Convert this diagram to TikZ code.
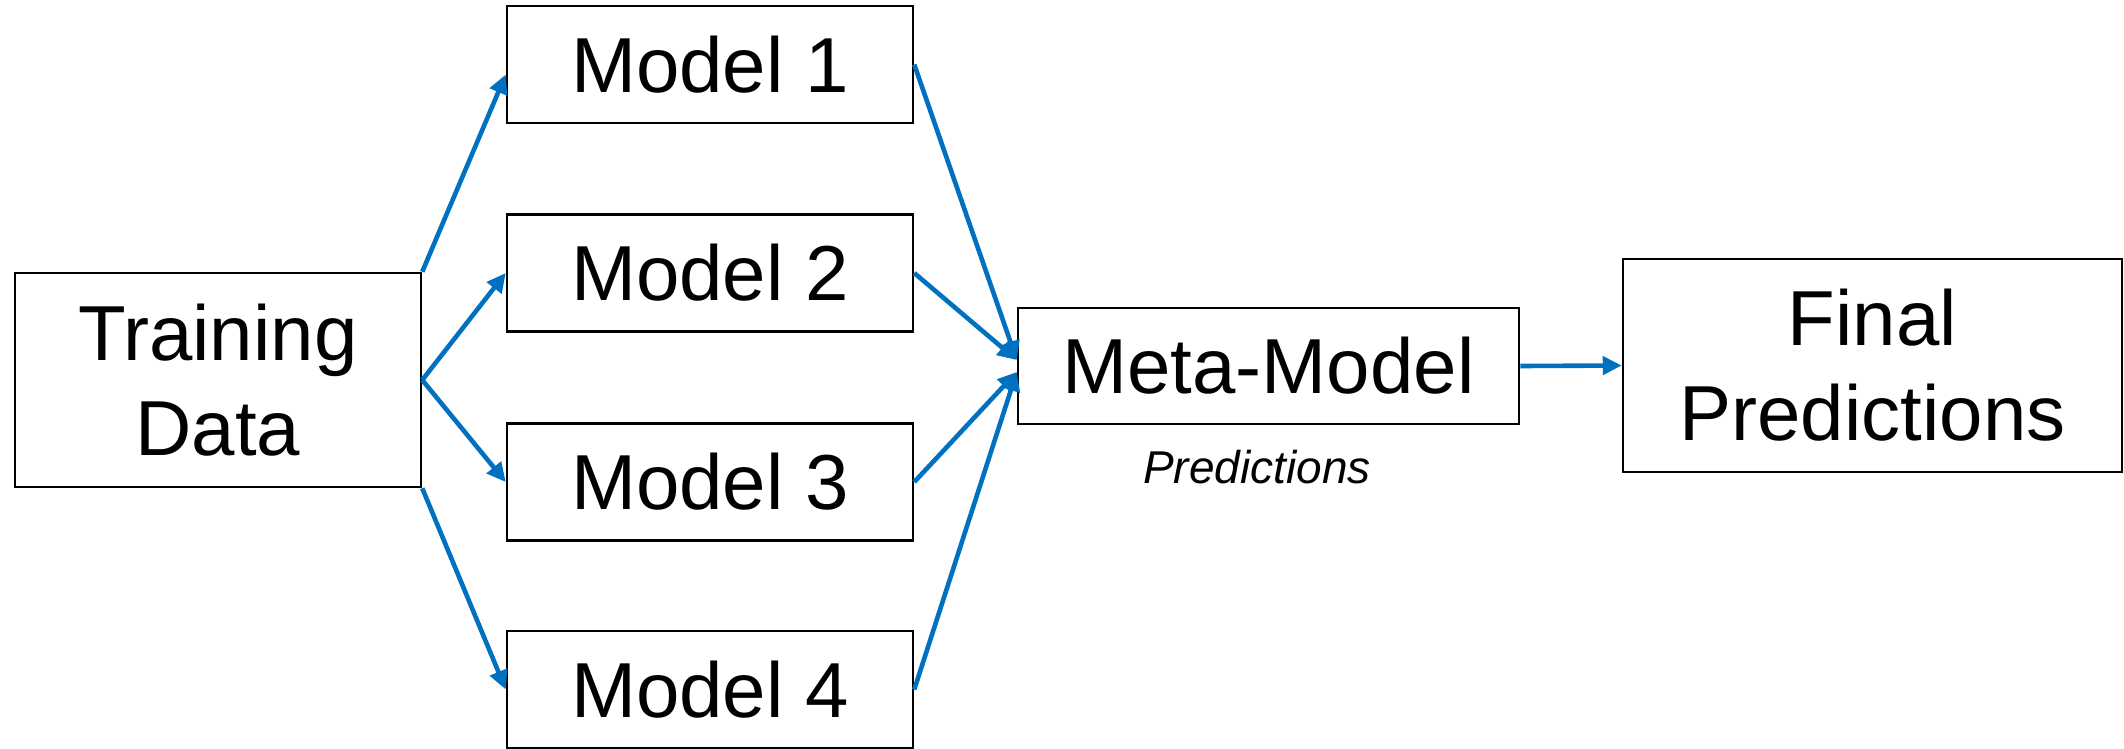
\documentclass[tikz,border=0pt]{standalone}
\usepackage{fontspec}
\setmainfont{Liberation Sans}
\usetikzlibrary{arrows.meta}
\definecolor{flowblue}{HTML}{0070C0}
\begin{document}
\begin{tikzpicture}[x=1pt,y=-1pt,
  box/.style={draw=black, line width=2.5pt, fill=white, rectangle, inner sep=0pt,
    align=center, font=\fontsize{78}{95}\selectfont},
  modelbox/.style={box, minimum width=406pt, minimum height=117pt},
  flow/.style={draw=flowblue, line width=4.6pt, -{Triangle[length=19pt,width=18pt]}},
  note/.style={font=\itshape\fontsize{46}{55}\selectfont},
]
\useasboundingbox (0,0) rectangle (2124,748);

% boxes
\node[box, minimum width=406pt, minimum height=214pt] (td) at (218,380) {Training\\Data};
\node[modelbox] (m1) at (710,64.5) {Model 1};
\node[modelbox] (m2) at (710,273) {Model 2};
\node[modelbox] (m3) at (710,482) {Model 3};
\node[modelbox] (m4) at (710,689.5) {Model 4};
\node[box, minimum width=501pt, minimum height=116pt] (mm) at (1268.5,366) {Meta-Model};
\node[box, minimum width=499pt, minimum height=213pt] (fp) at (1872.5,365.5) {Final\\Predictions};
\node[note] (lbl) at (1257,467) {Predictions};

% training data feeds every base model
\draw[flow] (td.north east) -- ([yshift=-10pt]m1.west);
\draw[flow] (td.east) -- (m2.west);
\draw[flow] (td.east) -- (m3.west);
\draw[flow] (td.south east) -- (m4.west);

% base model outputs go into the meta-model
\draw[flow] (m1.east) -- ([yshift=6pt]mm.west);
\draw[flow] (m2.east) -- ([yshift=6pt]mm.west);
\draw[flow] (m3.east) -- ([yshift=-6pt]mm.west);
\draw[flow] (m4.east) -- ([yshift=-6pt]mm.west);

% meta-model to final output
\draw[flow] (mm.east) -- (fp.west);
\end{tikzpicture}
\end{document}
